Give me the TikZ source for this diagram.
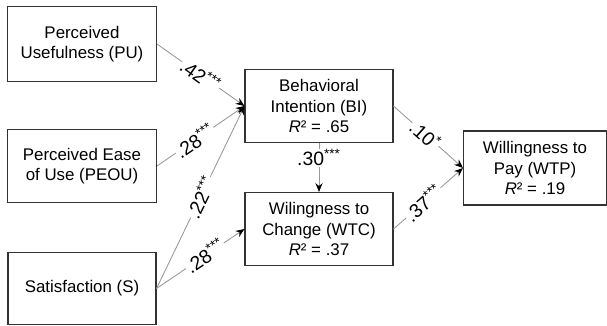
\documentclass[tikz,border=0pt]{standalone}
\usepackage{fontspec}
\setmainfont{Liberation Sans}
\usetikzlibrary{arrows.meta}

\begin{document}
\begin{tikzpicture}[
    x=0.02cm, y=-0.02cm,
    every node/.style={font=\fontsize{9.6}{11.5}\selectfont},
    var/.style={draw=black!80, line width=0.6pt, align=center, inner sep=2pt},
    arr/.style={-{Stealth[length=5pt, width=4pt, black]}, gray!80, line width=0.5pt},
    coef/.style={sloped, fill=white, text=black, inner sep=0.5pt, font=\fontsize{11}{12}\selectfont},
  ]
    \useasboundingbox (0,0) rectangle (607,325);

    % --- Predictors ---
    \node[var, minimum width=2.98cm, minimum height=1.5cm] (pu) at (82,44) {Perceived\\Usefulness (PU)};
    \node[var, minimum width=2.98cm, minimum height=1.46cm] (peou) at (82,166) {Perceived Ease\\of Use (PEOU)};
    \node[var, minimum width=2.96cm, minimum height=1.44cm] (s) at (82,288.5) {Satisfaction (S)};

    % --- Mediators ---
    \node[var, minimum width=2.96cm, minimum height=1.46cm] (bi) at (319,106) {Behavioral\\Intention (BI)\\\textit{R}² = .65};
    \node[var, minimum width=2.96cm, minimum height=1.46cm] (wtc) at (319,229) {Wilingness to\\Change (WTC)\\\textit{R}² = .37};

    % --- Outcome ---
    \node[var, minimum width=2.86cm, minimum height=1.48cm] (wtp) at (535,168) {Willingness to\\Pay (WTP)\\\textit{R}² = .19};

    % Paths
    \draw[arr] (pu.east) -- node[coef, pos=0.5] {.42\textsuperscript{***}} (bi.west);
    \draw[arr] (peou.east) -- node[coef, pos=0.43] {.28\textsuperscript{***}} (bi.west);
    \draw[arr] (s.east) -- node[coef, pos=0.5] {.22\textsuperscript{***}} (bi.west);
    \draw[arr] (s.east) -- node[coef, pos=0.55] {.28\textsuperscript{***}} (wtc.west);
    \draw[arr] (bi.south) -- node[coef, pos=0.3, sloped=false] {.30\textsuperscript{***}} (wtc.north);
    \draw[arr] (bi.east) -- node[coef, pos=0.46] {.10\textsuperscript{*}} (wtp.west);
    \draw[arr] (wtc.east) -- node[coef, pos=0.43] {.37\textsuperscript{***}} (wtp.west);
  \end{tikzpicture}
\end{document}
